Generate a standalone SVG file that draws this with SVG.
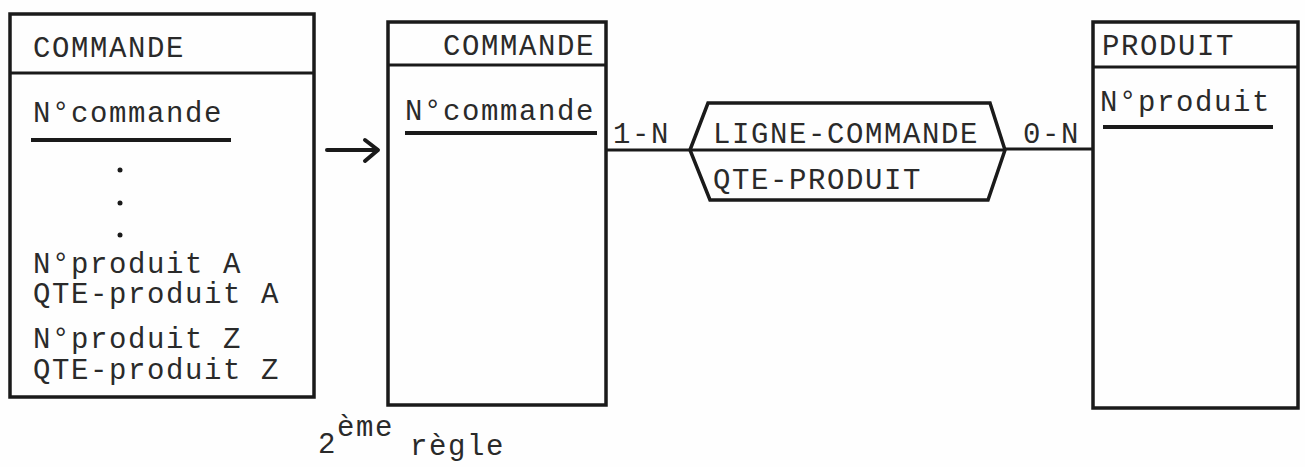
<svg xmlns="http://www.w3.org/2000/svg" width="1305" height="467" viewBox="0 0 1305 467">
<style>
.box{fill:none;stroke:#1a1a1a;stroke-width:3.5}
.ln{stroke:#1a1a1a;stroke-width:3;fill:none}
.arr{stroke:#1a1a1a;stroke-width:4;fill:none;stroke-linecap:round;stroke-linejoin:round}
.ul{stroke:#1a1a1a;stroke-width:4}
text{font-family:"Liberation Mono","DejaVu Sans Mono",monospace;font-size:29px;letter-spacing:1.6px;fill:#2a2a2a}
.dot{fill:#1a1a1a}
</style>
<rect width="1305" height="467" fill="#fefefe"/>
<g id="commande-avant">
<rect class="box" x="10" y="14" width="304" height="383"/>
<line class="ln" x1="10" y1="73" x2="314" y2="73"/>
<text x="33" y="57">COMMANDE</text>
<text x="33" y="122">N°commande</text>
<line class="ul" x1="31" y1="140" x2="231" y2="140"/>
<circle class="dot" cx="120" cy="170" r="2.5"/>
<circle class="dot" cx="120" cy="203" r="2.5"/>
<circle class="dot" cx="120" cy="235" r="2.5"/>
<text x="33" y="273">N°produit A</text>
<text x="33" y="303">QTE-produit A</text>
<text x="33" y="348">N°produit Z</text>
<text x="33" y="379">QTE-produit Z</text>
</g>
<g id="commande">
<rect class="box" x="388" y="22" width="218" height="383"/>
<line class="ln" x1="388" y1="65" x2="606" y2="65"/>
<text x="443" y="55">COMMANDE</text>
<text x="405" y="120">N°commande</text>
<line class="ul" x1="405" y1="133" x2="597" y2="133"/>
</g>
<g id="ligne-commande">
<polygon class="box" points="690,150 708,103 990,103 1005,150 988,200 710,200"/>
<line class="ln" x1="690" y1="150" x2="1005" y2="150"/>
<text x="713" y="143">LIGNE-COMMANDE</text>
<text x="713" y="189">QTE-PRODUIT</text>
</g>
<g id="produit">
<rect class="box" x="1093" y="22" width="205" height="386"/>
<line class="ln" x1="1093" y1="67" x2="1298" y2="67"/>
<text x="1102" y="55">PRODUIT</text>
<text x="1100" y="111">N°produit</text>
<line class="ul" x1="1103" y1="127" x2="1273" y2="127"/>
</g>
<g id="connectors">
<line class="ln" x1="606" y1="150" x2="690" y2="150"/>
<line class="ln" x1="1005" y1="149" x2="1093" y2="149"/>
<text x="613" y="143">1-N</text>
<text x="1023" y="143">0-N</text>
<line class="arr" x1="327" y1="150" x2="377" y2="150"/>
<polyline class="arr" points="365,140 378,150 365,161"/>
</g>
<g id="legende">
<text x="318" y="453">2<tspan dy="-17">ème</tspan><tspan x="410" dy="19">règle</tspan></text>
</g>
</svg>
